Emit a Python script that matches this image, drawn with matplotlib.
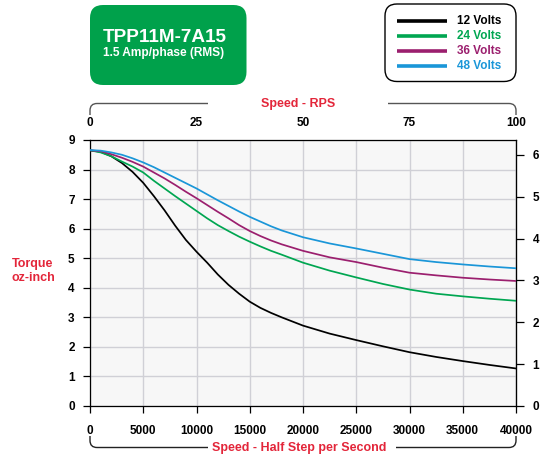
import numpy as np
import matplotlib
matplotlib.use("Agg")
import matplotlib.pyplot as plt
from matplotlib.patches import FancyBboxPatch, PathPatch
from matplotlib.path import Path
from matplotlib.lines import Line2D

plt.rcParams['font.family'] = ['Liberation Sans', 'DejaVu Sans']
plt.rcParams['font.weight'] = 'bold'

# Speed in half steps per second
speed = [0, 1000, 2000, 3000, 4000, 5000, 6000, 7000, 8000, 9000, 10000,
         11000, 12000, 13000, 14000, 15000, 16000, 17000, 18000, 20000,
         22500, 25000, 27500, 30000, 32500, 35000, 37500, 40000]

# Torque (oz-inch) for each supply voltage
torque_12v = [8.65, 8.60, 8.45, 8.22, 7.92, 7.55, 7.10, 6.62, 6.10, 5.62, 5.22,
              4.85, 4.45, 4.10, 3.80, 3.53, 3.32, 3.15, 3.00, 2.72,
              2.45, 2.23, 2.02, 1.82, 1.66, 1.52, 1.39, 1.27]
torque_24v = [8.65, 8.58, 8.45, 8.27, 8.10, 7.90, 7.62, 7.36, 7.10, 6.85, 6.60,
              6.35, 6.12, 5.92, 5.73, 5.56, 5.40, 5.25, 5.12, 4.85,
              4.58, 4.35, 4.13, 3.94, 3.80, 3.71, 3.63, 3.56]
torque_36v = [8.65, 8.62, 8.52, 8.40, 8.26, 8.10, 7.90, 7.70, 7.48, 7.25, 7.03,
              6.80, 6.57, 6.35, 6.12, 5.92, 5.75, 5.60, 5.47, 5.25,
              5.03, 4.87, 4.68, 4.51, 4.42, 4.34, 4.28, 4.23]
torque_48v = [8.66, 8.64, 8.58, 8.50, 8.38, 8.24, 8.08, 7.90, 7.72, 7.54, 7.36,
              7.16, 6.96, 6.77, 6.58, 6.40, 6.24, 6.08, 5.94, 5.71,
              5.50, 5.33, 5.15, 4.97, 4.87, 4.79, 4.72, 4.66]

series = [torque_12v, torque_24v, torque_36v, torque_48v]
labels = ['12 Volts', '24 Volts', '36 Volts', '48 Volts']
colors = ['#000000', '#00a651', '#9b1f6e', '#1a96d8']

x_ticks = [0, 5000, 10000, 15000, 20000, 25000, 30000, 35000, 40000]
y_ticks = [0, 1, 2, 3, 4, 5, 6, 7, 8, 9]
rps_ticks = [0, 25, 50, 75, 100]
ncm_ticks = [0, 1, 2, 3, 4, 5, 6]

OZIN_TO_NCM = 0.7062
RED = '#e3263a'
GREEN_BOX = '#00a14b'

W, H = 547, 466
fig = plt.figure(figsize=(W / 100, H / 100), dpi=100)

# axes placed in pixel coordinates
L, R, T, B = 90, 516, 140, 406
ax = fig.add_axes([L / W, 1 - B / H, (R - L) / W, (B - T) / H])
ax.set_facecolor('#f7f7f7')

for vals, c in zip(series, colors):
    ax.plot(speed, vals, color=c, lw=1.25, zorder=3)

ax.set_xlim(0, 40000)
ax.set_ylim(0, 9)
ax.set_xticks(x_ticks)
ax.set_yticks(y_ticks)
ax.grid(True, color='#d0d0d6', lw=1.0, zorder=0)
ax.set_axisbelow(True)
for s in ax.spines.values():
    s.set_color('black')
    s.set_linewidth(0.9)
ax.tick_params(axis='both', direction='out', length=5, width=0.9, labelsize=8.5)
ax.tick_params(axis='x', pad=9)
ax.tick_params(axis='y', pad=6)

secx = ax.secondary_xaxis('top', functions=(lambda v: v / 400, lambda r: r * 400))
secx.set_xticks(rps_ticks)
secx.tick_params(length=0, pad=8, labelsize=8.5)
secx.spines['top'].set_visible(False)

secy = ax.secondary_yaxis('right', functions=(lambda v: v * OZIN_TO_NCM,
                                               lambda n: n / OZIN_TO_NCM))
secy.set_yticks(ncm_ticks)
secy.tick_params(direction='out', length=6, width=0.9, pad=6, labelsize=8.5)
secy.spines['right'].set_color('black')


# helpers in pixel space (origin top-left)
def P(x, y):
    return (x / 100, (H - y) / 100)


tr = fig.dpi_scale_trans

# left axis label
fig.text(*P(33, 271), 'Torque\noz-inch', transform=tr, color=RED, fontsize=9,
         ha='center', va='center', linespacing=1.25)


def bracket(y_line, y_end, x0, x1, gap0, gap1, color, up=True):
    r = 7
    d = 1 if up else -1
    verts = [P(x0, y_end), P(x0, y_line + d * r), P(x0, y_line), P(x0 + r, y_line),
             P(gap0, y_line)]
    codes = [Path.MOVETO, Path.LINETO, Path.CURVE3, Path.CURVE3, Path.LINETO]
    fig.add_artist(PathPatch(Path(verts, codes), transform=tr, fill=False,
                             ec=color, lw=1.0))
    verts = [P(gap1, y_line), P(x1 - r, y_line), P(x1, y_line), P(x1, y_line + d * r),
             P(x1, y_end)]
    codes = [Path.MOVETO, Path.LINETO, Path.CURVE3, Path.CURVE3, Path.LINETO]
    fig.add_artist(PathPatch(Path(verts, codes), transform=tr, fill=False,
                             ec=color, lw=1.0))


bracket(103.5, 115, 90, 516, 208, 388, '#555555', up=True)
fig.text(*P(298, 104.5), 'Speed - RPS', transform=tr, color=RED, fontsize=9,
         ha='center', va='center')

bracket(447.5, 436, 90, 516, 208, 396, '#222222', up=False)
fig.text(*P(299, 447.5), 'Speed - Half Step per Second', transform=tr, color=RED,
         fontsize=9, ha='center', va='center')

# title box
x0, y0 = P(90, 85)
box = FancyBboxPatch((x0, y0), 1.565, 0.80, transform=tr,
                     boxstyle='round,pad=0,rounding_size=0.13',
                     fc=GREEN_BOX, ec='none')
fig.add_artist(box)
fig.text(*P(103, 42.5), 'TPP11M-7A15', transform=tr, color='white', fontsize=13.6,
         ha='left', va='baseline')
fig.text(*P(103, 56), '1.5 Amp/phase (RMS)', transform=tr, color='white',
         fontsize=8.6, ha='left', va='baseline')

# legend box
x0, y0 = P(385, 81.5)
lbox = FancyBboxPatch((x0, y0), 1.31, 0.775, transform=tr,
                      boxstyle='round,pad=0,rounding_size=0.12',
                      fc='white', ec='black', lw=1.0)
fig.add_artist(lbox)
for i, (lab, c) in enumerate(zip(labels, colors)):
    yy = 21 + 15 * i
    (xa, ya), (xb, yb) = P(397, yy), P(447.5, yy)
    fig.add_artist(Line2D([xa, xb], [ya, yb], transform=tr, color=c, lw=2.6,
                          solid_capstyle='butt'))
    fig.text(*P(456.5, yy), lab, transform=tr, color=c, fontsize=8.5,
             ha='left', va='center')

fig.savefig('out.png', dpi=100)
